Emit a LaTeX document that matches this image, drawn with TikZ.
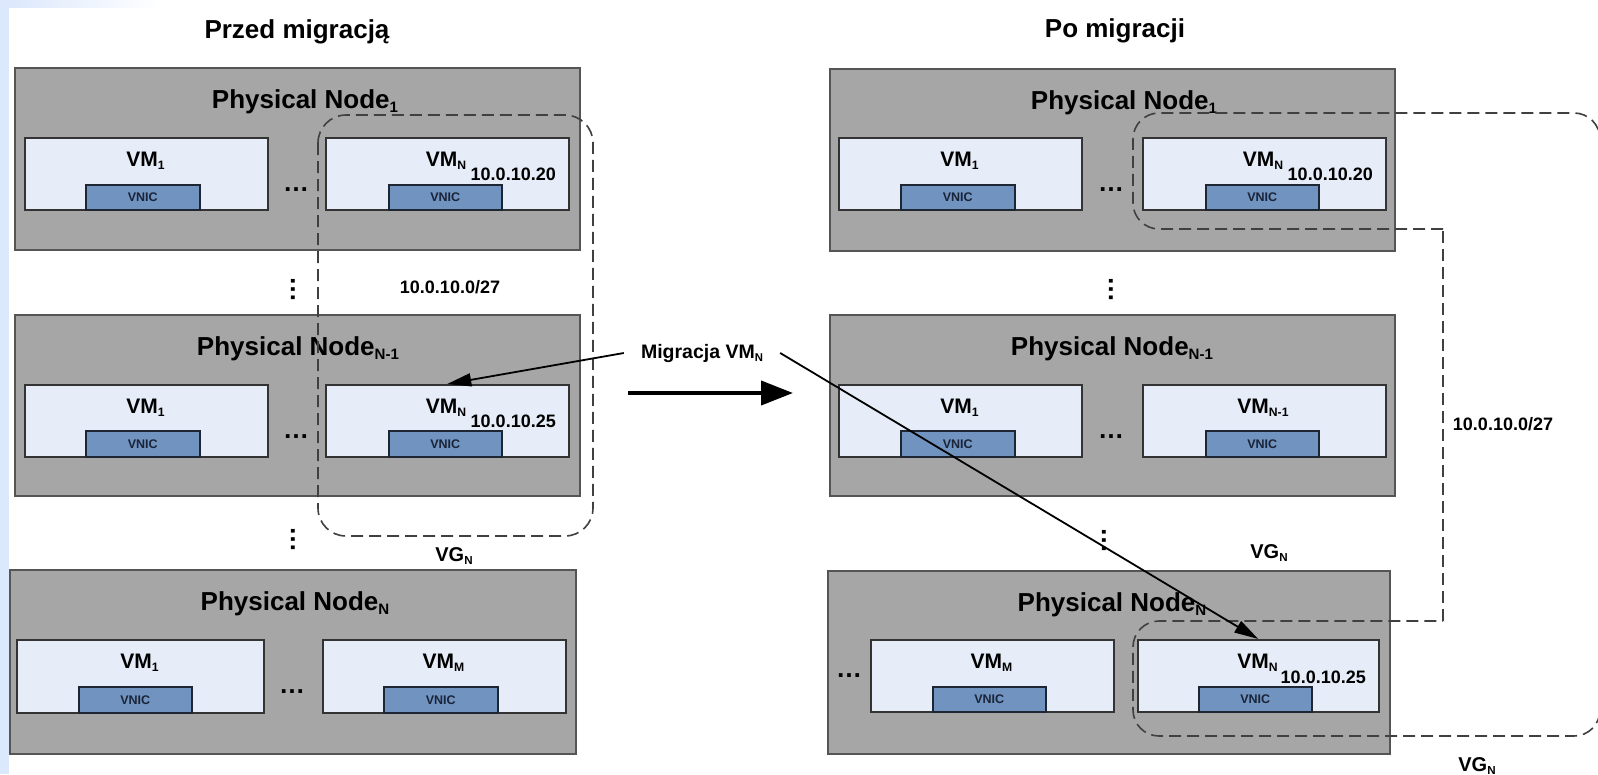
\documentclass[tikz,border=0pt]{standalone}
\usepackage{fontspec}
\setmainfont{Liberation Sans}
\usetikzlibrary{arrows.meta}
\newcommand{\mysub}[1]{\raisebox{-0.16em}{\scalebox{0.58}{#1}}}
\definecolor{pngray}{HTML}{A6A6A6}
\definecolor{pnborder}{HTML}{555555}
\definecolor{vmfill}{HTML}{E6EDF8}
\definecolor{vmborder}{HTML}{333333}
\definecolor{vnicfill}{HTML}{7093C0}
\definecolor{vnicborder}{HTML}{1E2633}
\definecolor{vnictext}{HTML}{1A2438}
\definecolor{stripblue}{HTML}{DCE8FB}
\definecolor{dashgray}{HTML}{404040}
\begin{document}
\begin{tikzpicture}[x=1pt,y=-1pt,
  pn/.style={draw=pnborder, line width=2pt, fill=pngray, anchor=north west, inner sep=0pt},
  vm/.style={draw=vmborder, line width=1.5pt, fill=vmfill, anchor=north west, inner sep=0pt},
  vnic/.style={draw=vnicborder, line width=1.5pt, fill=vnicfill, anchor=north west, inner sep=0pt,
    text=vnictext, font=\fontsize{12.5}{14}\selectfont\bfseries},
  pntitle/.style={anchor=base, inner sep=0pt, font=\fontsize{26}{30}\selectfont\bfseries},
  vmlabel/.style={anchor=base, inner sep=0pt, font=\fontsize{21}{24}\selectfont\bfseries},
  iplabel/.style={anchor=base east, inner sep=0pt, font=\fontsize{18}{21}\selectfont\bfseries},
  title/.style={anchor=base, inner sep=0pt, font=\fontsize{26}{30}\selectfont\bfseries},
  note/.style={inner sep=0pt, font=\fontsize{18}{21}\selectfont\bfseries},
  vglabel/.style={inner sep=0pt, font=\fontsize{20}{23}\selectfont\bfseries},
  hdots/.style={inner sep=0pt, font=\fontsize{26}{30}\selectfont\bfseries},
  vdots/.style={inner sep=0pt, rotate=90, font=\fontsize{26}{30}\selectfont\bfseries},
  vg/.style={draw=dashgray, line width=1.6pt, dash pattern=on 12pt off 6pt},
  thinarrow/.style={draw=black, line width=1.8pt, -{Triangle[length=24pt,width=13pt]}},
  bigarrow/.style={draw=black, line width=4pt, -{Triangle[length=32pt,width=24pt]}}
]
\useasboundingbox (0,0) rectangle (1598,774);
\fill[white] (0,0) rectangle (1598,774);
\fill[stripblue] (0,0) rectangle (9,774);
\shade[left color=stripblue, right color=white] (9,0) rectangle (160,7);

% titles
\node[title] (t1) at (297,38) {Przed migracją};
\node[title] (t2) at (1115,37) {Po migracji};

% ===== left column =====
\node[pn, minimum width=565pt, minimum height=182pt] (pn1L) at (14,67) {};
\node[pntitle] (pn1Lt) at (305,108) {Physical Node\mysub{1}};
\node[vm, minimum width=243pt, minimum height=72pt] (vm1L1) at (24,137) {};
\node[vmlabel] (vm1L1t) at (145.5,166) {VM\mysub{1}};
\node[vnic, minimum width=114pt, minimum height=25pt] (vnic1L1) at (85,184) {VNIC};
\node[hdots] (d1L) at (296,190) {…};
\node[vm, minimum width=243pt, minimum height=72pt] (vmNL1) at (325,137) {};
\node[vmlabel] (vmNL1t) at (446,166) {VM\mysub{N}};
\node[iplabel] (ipL1) at (556,180) {10.0.10.20};
\node[vnic, minimum width=113pt, minimum height=25pt] (vnicNL1) at (388,184) {VNIC};

\node[pn, minimum width=565pt, minimum height=181pt] (pn2L) at (14,314) {};
\node[pntitle] (pn2Lt) at (298,355) {Physical Node\mysub{N-1}};
\node[vm, minimum width=243pt, minimum height=72pt] (vm1L2) at (24,384) {};
\node[vmlabel] (vm1L2t) at (145.5,413) {VM\mysub{1}};
\node[vnic, minimum width=114pt, minimum height=26pt] (vnic1L2) at (85,430) {VNIC};
\node[hdots] (d2L) at (296,437) {…};
\node[vm, minimum width=243pt, minimum height=72pt] (vmNL2) at (325,384) {};
\node[vmlabel] (vmNL2t) at (446,413) {VM\mysub{N}};
\node[iplabel] (ipL2) at (556,427) {10.0.10.25};
\node[vnic, minimum width=113pt, minimum height=26pt] (vnicNL2) at (388,430) {VNIC};

\node[pn, minimum width=566pt, minimum height=184pt] (pn3L) at (9,569) {};
\node[pntitle] (pn3Lt) at (295,610) {Physical Node\mysub{N}};
\node[vm, minimum width=247pt, minimum height=73pt] (vm1L3) at (16,639) {};
\node[vmlabel] (vm1L3t) at (139.5,668) {VM\mysub{1}};
\node[vnic, minimum width=113pt, minimum height=26pt] (vnic1L3) at (78,686) {VNIC};
\node[hdots] (d3L) at (292,692) {…};
\node[vm, minimum width=243pt, minimum height=73pt] (vmML3) at (322,639) {};
\node[vmlabel] (vmML3t) at (443.5,668) {VM\mysub{M}};
\node[vnic, minimum width=114pt, minimum height=26pt] (vnicML3) at (383,686) {VNIC};

\node[vdots] (vd1L) at (293,289) {…};
\node[vdots] (vd2L) at (293,539) {…};
\node[note] (netL) at (450,287) {10.0.10.0/27};
\node[vglabel] (vgL) at (454,556) {VG\mysub{N}};
\draw[vg, rounded corners=28pt] (318,115) rectangle (593,536);

% ===== right column =====
\node[pn, minimum width=565pt, minimum height=182pt] (pn1R) at (829,68) {};
\node[pntitle] (pn1Rt) at (1124,109) {Physical Node\mysub{1}};
\node[vm, minimum width=243pt, minimum height=72pt] (vm1R1) at (838,137) {};
\node[vmlabel] (vm1R1t) at (959.5,166) {VM\mysub{1}};
\node[vnic, minimum width=114pt, minimum height=25pt] (vnic1R1) at (900,184) {VNIC};
\node[hdots] (d1R) at (1111,190) {…};
\node[vm, minimum width=243pt, minimum height=72pt] (vmNR1) at (1142,137) {};
\node[vmlabel] (vmNR1t) at (1263,166) {VM\mysub{N}};
\node[iplabel] (ipR1) at (1373,180) {10.0.10.20};
\node[vnic, minimum width=113pt, minimum height=25pt] (vnicNR1) at (1205,184) {VNIC};

\node[pn, minimum width=565pt, minimum height=181pt] (pn2R) at (829,314) {};
\node[pntitle] (pn2Rt) at (1112,355) {Physical Node\mysub{N-1}};
\node[vm, minimum width=243pt, minimum height=72pt] (vm1R2) at (838,384) {};
\node[vmlabel] (vm1R2t) at (959.5,413) {VM\mysub{1}};
\node[vnic, minimum width=114pt, minimum height=26pt] (vnic1R2) at (900,430) {VNIC};
\node[hdots] (d2R) at (1111,437) {…};
\node[vm, minimum width=243pt, minimum height=72pt] (vmN1R2) at (1142,384) {};
\node[vmlabel] (vmN1R2t) at (1263,413) {VM\mysub{N-1}};
\node[vnic, minimum width=113pt, minimum height=26pt] (vnicN1R2) at (1205,430) {VNIC};

\node[pn, minimum width=562pt, minimum height=183pt] (pn3R) at (827,570) {};
\node[pntitle] (pn3Rt) at (1112,611) {Physical Node\mysub{N}};
\node[hdots] (d3R) at (849,676) {…};
\node[vm, minimum width=243pt, minimum height=72pt] (vmMR3) at (870,639) {};
\node[vmlabel] (vmMR3t) at (991.5,668) {VM\mysub{M}};
\node[vnic, minimum width=113pt, minimum height=25pt] (vnicMR3) at (932,686) {VNIC};
\node[vm, minimum width=241pt, minimum height=72pt] (vmNR3) at (1137,639) {};
\node[vmlabel] (vmNR3t) at (1257.5,668) {VM\mysub{N}};
\node[iplabel] (ipR3) at (1366,683) {10.0.10.25};
\node[vnic, minimum width=113pt, minimum height=25pt] (vnicNR3) at (1198,686) {VNIC};

\node[vdots] (vd1R) at (1111,289) {…};
\node[vdots] (vd2R) at (1104,540) {…};
\node[note] (netR) at (1503,424) {10.0.10.0/27};
\node[vglabel] (vgR1) at (1269,553) {VG\mysub{N}};
\node[vglabel] (vgR2) at (1477,766) {VG\mysub{N}};
\draw[vg, rounded corners=26pt] (1443,229) -- (1133,229) -- (1133,113) -- (1600,113)
  -- (1600,736) -- (1133,736) -- (1133,621) -- (1443,621);
\draw[vg] (1443,621) -- (1443,229);

% ===== migration =====
\node[inner sep=0pt, inner xsep=17pt, font=\fontsize{19.5}{22}\selectfont\bfseries] (mig) at (702,353) {Migracja VM\mysub{N}};
\draw[thinarrow] (mig.west) -- (vmNL2.north);
\draw[thinarrow] (mig.east) -- (vmNR3.north);
\coordinate (ba1) at (628,393);
\coordinate (ba2) at (793,393);
\draw[bigarrow] (ba1) -- (ba2);
\end{tikzpicture}
\end{document}
